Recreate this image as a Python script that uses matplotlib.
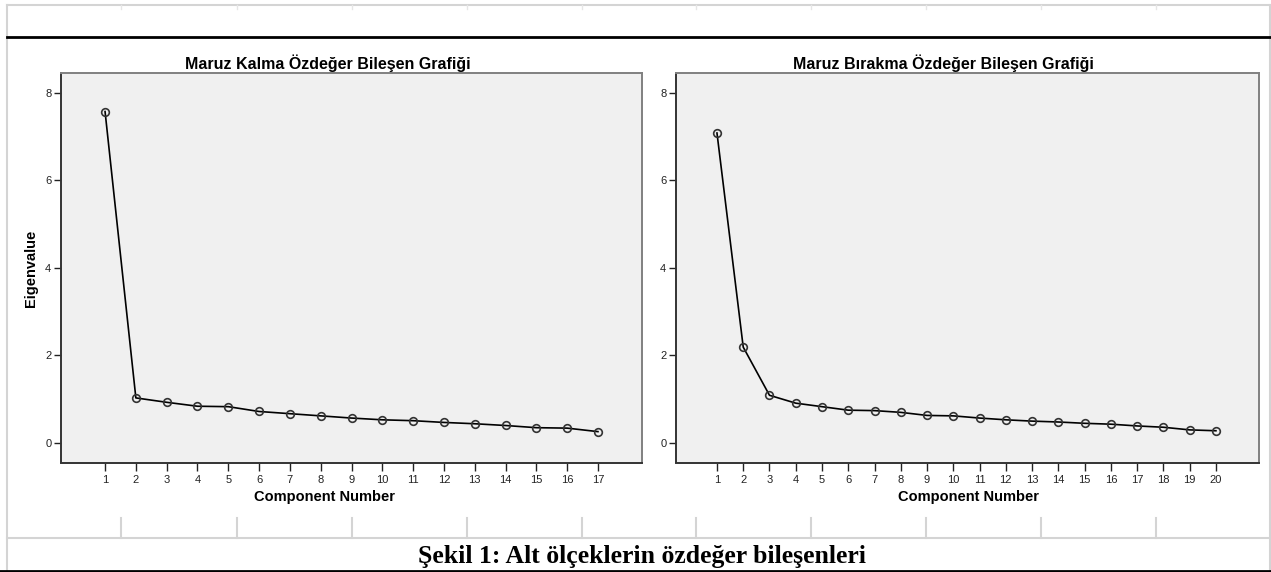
import numpy as np
import matplotlib
matplotlib.use("Agg")
import matplotlib.pyplot as plt
from matplotlib.lines import Line2D

plt.rcParams['font.family'] = ['Liberation Sans', 'DejaVu Sans']

# eigenvalues
kalma = [7.57, 1.03, 0.93, 0.84, 0.83, 0.72, 0.67, 0.62, 0.57, 0.53,
         0.51, 0.47, 0.44, 0.40, 0.35, 0.34, 0.26]
birakma = [7.08, 2.19, 1.09, 0.91, 0.83, 0.75, 0.74, 0.70, 0.63, 0.62,
           0.57, 0.53, 0.50, 0.48, 0.45, 0.43, 0.39, 0.36, 0.30, 0.28]

titles = ["Maruz Kalma Özdeğer Bileşen Grafiği",
          "Maruz Bırakma Özdeğer Bileşen Grafiği"]
xlabel = "Component Number"
ylabel = "Eigenvalue"
caption = "Şekil 1: Alt ölçeklerin özdeğer bileşenleri"
yticks = [0, 2, 4, 6, 8]

W, H = 1271, 572
fig = plt.figure(figsize=(W / 100, H / 100), dpi=100)


def fx(px):
    return px / W


def fy(py):
    return 1 - py / H


def hline(y, x0, x1, color, lw):
    fig.add_artist(Line2D([fx(x0), fx(x1)], [fy(y), fy(y)], color=color, lw=lw))


def vline(x, y0, y1, color, lw):
    fig.add_artist(Line2D([fx(x), fx(x)], [fy(y0), fy(y1)], color=color, lw=lw))


# page / table decoration
grey = "#d4d4d4"
hline(5, 7, 1270, grey, 1.5)
vline(7, 5, 571, grey, 1.5)
vline(1270, 5, 571, grey, 1.5)
hline(37, 7, 1270, "black", 2.0)
hline(538, 7, 1270, grey, 1.5)
hline(571, 0, 1271, "black", 2.0)
cols = [121, 237, 352, 467, 582, 696, 811, 926, 1041, 1156]
for c in cols:
    vline(c, 5, 9, "#e6e6e6", 1.0)
    vline(c, 518, 538, grey, 1.5)

fig.text(fx(642), fy(556), caption, ha="center", va="center",
         family=["Liberation Serif", "DejaVu Serif"], fontweight="bold", fontsize=18.5)

panels = [
    dict(data=kalma, box=(61, 642), xlim=(-0.43, 18.43), title_x=328, xl_x=325, ylab=True),
    dict(data=birakma, box=(676, 1259), xlim=(-0.56, 21.64), title_x=943, xl_x=968, ylab=False),
]

top, bottom = 73, 462.5
for i, p in enumerate(panels):
    x0, x1 = p["box"]
    ax = fig.add_axes([fx(x0), fy(bottom), (x1 - x0) / W, (bottom - top) / H])
    vals = p["data"]
    comp = np.arange(1, len(vals) + 1)
    ax.set_facecolor("#f0f0f0")
    ax.plot(comp, vals, color="black", lw=1.2, marker="o", ms=5.5,
            mfc="none", mec="#333333", mew=1.2, zorder=3)
    ax.set_xlim(*p["xlim"])
    ax.set_ylim(-0.445, 8.45)
    ax.set_xticks(comp)
    ax.set_yticks(yticks)
    ax.tick_params(axis="both", labelsize=8, colors="#222222", length=5, width=1.0, pad=2)
    ax.tick_params(axis="x", length=6, pad=3)
    for s in ["left", "bottom"]:
        ax.spines[s].set_color("#333333")
        ax.spines[s].set_linewidth(1.4)
    for s in ["top", "right"]:
        ax.spines[s].set_color("#808080")
        ax.spines[s].set_linewidth(1.4)
    fig.text(fx(p["title_x"]), fy(63), titles[i], ha="center", va="center",
             fontsize=11.5, fontweight="bold")
    fig.text(fx(p["xl_x"]), fy(497), xlabel, ha="center", va="center",
             fontsize=10.5, fontweight="bold")
    if p["ylab"]:
        fig.text(fx(31), fy(268), ylabel, ha="center", va="center", rotation=90,
                 fontsize=10.5, fontweight="bold")

fig.savefig("out.png", dpi=100)
